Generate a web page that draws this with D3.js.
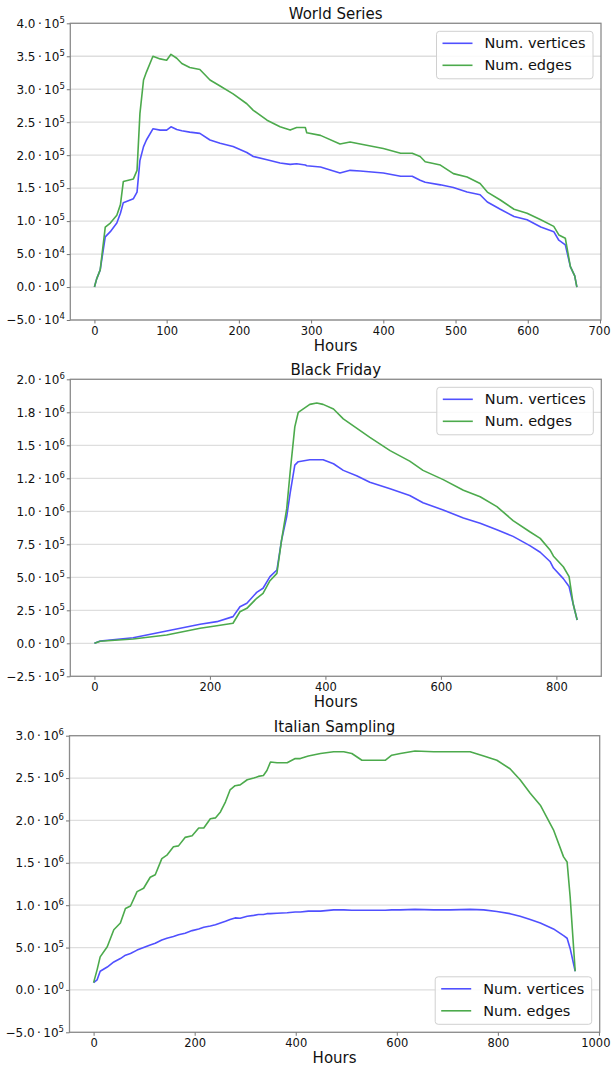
<!DOCTYPE html>
<html>
<head>
<meta charset="utf-8">
<script src="https://cdn.jsdelivr.net/npm/d3@7"></script>
<style>
  body { margin: 0; background: #fff; }
  svg text { font-family: "DejaVu Sans", sans-serif; fill: #111; }
</style>
</head>
<body>
<svg id="chart" width="611" height="1066"></svg>
<script>
// ---- World Series ----
const worldHours = [0, 3, 8, 15, 22, 31, 36, 40, 54, 59, 63, 68, 72, 81, 91, 100, 106, 114, 121, 132,
    146, 160, 174, 192, 211, 220, 239, 257, 271, 280, 292, 294, 313, 340, 354, 368, 400, 424, 440, 451,
    458, 479, 497, 516, 534, 544, 562, 581, 599, 618, 636, 643, 652, 659, 665, 668];
const worldVertices = [0, 0.12e5, 0.26e5, 0.76e5, 0.84e5, 0.97e5, 1.12e5, 1.28e5, 1.34e5, 1.44e5, 1.92e5, 2.13e5,
    2.23e5, 2.40e5, 2.38e5, 2.38e5, 2.43e5, 2.39e5, 2.37e5, 2.35e5, 2.33e5, 2.23e5, 2.18e5, 2.13e5, 2.04e5,
    1.98e5, 1.93e5, 1.88e5, 1.86e5, 1.87e5, 1.85e5, 1.84e5, 1.82e5, 1.73e5, 1.77e5, 1.76e5, 1.73e5, 1.68e5,
    1.68e5, 1.62e5, 1.59e5, 1.55e5, 1.51e5, 1.44e5, 1.40e5, 1.29e5, 1.18e5, 1.07e5, 1.02e5, 0.91e5, 0.84e5,
    0.71e5, 0.64e5, 0.31e5, 0.17e5, 0];
const worldEdges = [0, 0.12e5, 0.26e5, 0.91e5, 0.97e5, 1.09e5, 1.25e5, 1.60e5, 1.64e5, 1.77e5, 2.63e5, 3.14e5,
    3.26e5, 3.50e5, 3.46e5, 3.44e5, 3.53e5, 3.47e5, 3.39e5, 3.33e5, 3.30e5, 3.14e5, 3.05e5, 2.93e5, 2.78e5,
    2.68e5, 2.53e5, 2.43e5, 2.38e5, 2.42e5, 2.42e5, 2.34e5, 2.30e5, 2.17e5, 2.20e5, 2.17e5, 2.10e5, 2.03e5,
    2.03e5, 1.98e5, 1.90e5, 1.85e5, 1.72e5, 1.67e5, 1.57e5, 1.44e5, 1.32e5, 1.18e5, 1.12e5, 1.02e5, 0.92e5,
    0.79e5, 0.74e5, 0.31e5, 0.17e5, 0];
const worldXTicks = [0, 100, 200, 300, 400, 500, 600, 700];
const worldYTicks = [-5e4, 0, 5e4, 1e5, 1.5e5, 2e5, 2.5e5, 3e5, 3.5e5, 4e5];
const worldYTickLabels = [['\u22125.0', 4], ['0.0', 0], ['5.0', 4], ['1.0', 5], ['1.5', 5], ['2.0', 5],
    ['2.5', 5], ['3.0', 5], ['3.5', 5], ['4.0', 5]];

// ---- Black Friday ----
const fridayHours = [0, 10, 67, 125, 183, 212, 240, 252, 264, 281, 292, 304, 316, 324, 333, 339, 347, 353,
    373, 385, 396, 414, 431, 454, 477, 512, 546, 569, 604, 639, 668, 697, 725, 754, 772, 789, 795, 812,
    822, 829, 836];
const fridayVertices = [0, 0.17e5, 0.42e5, 0.93e5, 1.44e5, 1.64e5, 2.02e5, 2.77e5, 3.03e5, 3.86e5, 4.17e5,
    5.05e5, 5.55e5, 7.8e5, 9.6e5, 11.4e5, 13.5e5, 13.76e5, 13.9e5, 13.9e5, 13.9e5, 13.6e5, 13.1e5, 12.7e5,
    12.2e5, 11.7e5, 11.2e5, 10.65e5, 10.1e5, 9.5e5, 9.1e5, 8.6e5, 8.1e5, 7.4e5, 6.9e5, 6.2e5, 5.7e5, 4.9e5,
    4.3e5, 3.0e5, 1.77e5];
const fridayEdges = [0, 0.15e5, 0.32e5, 0.63e5, 1.14e5, 1.33e5, 1.52e5, 2.39e5, 2.65e5, 3.41e5, 3.79e5,
    4.74e5, 5.30e5, 7.8e5, 10.2e5, 13.0e5, 16.4e5, 17.5e5, 18.1e5, 18.2e5, 18.1e5, 17.75e5, 17.0e5, 16.3e5,
    15.6e5, 14.6e5, 13.8e5, 13.1e5, 12.4e5, 11.6e5, 11.1e5, 10.35e5, 9.3e5, 8.45e5, 7.95e5, 7.07e5, 6.6e5,
    5.8e5, 5.05e5, 3.0e5, 1.77e5];
const fridayXTicks = [0, 200, 400, 600, 800];
const fridayYTicks = [-2.5e5, 0, 2.5e5, 5e5, 7.5e5, 1e6, 1.25e6, 1.5e6, 1.75e6, 2e6];
const fridayYTickLabels = [['\u22122.5', 5], ['0.0', 0], ['2.5', 5], ['5.0', 5], ['7.5', 5], ['1.0', 6],
    ['1.2', 6], ['1.5', 6], ['1.8', 6], ['2.0', 6]];

// ---- Italian Sampling ----
const italianHours = [0, 7, 13, 27, 40, 53, 63, 73, 86, 99, 112, 122, 135, 145, 158, 168, 181, 195, 208, 218,
    231, 241, 251, 261, 270, 280, 290, 304, 317, 326, 336, 343, 350, 363, 383, 399, 409, 425, 449, 475,
    495, 511, 531, 577, 590, 607, 636, 673, 706, 745, 772, 798, 824, 844, 864, 884, 910, 930, 937, 943, 953];
const italianVertices = [0.086e6, 0.12e6, 0.22e6, 0.27e6, 0.33e6, 0.37e6, 0.41e6, 0.43e6, 0.47e6, 0.50e6,
    0.53e6, 0.55e6, 0.59e6, 0.61e6, 0.63e6, 0.65e6, 0.67e6, 0.70e6, 0.72e6, 0.74e6,
    0.755e6, 0.77e6, 0.79e6, 0.81e6, 0.83e6, 0.85e6, 0.845e6, 0.87e6, 0.88e6, 0.89e6,
    0.89e6, 0.90e6, 0.90e6, 0.905e6, 0.91e6, 0.92e6, 0.92e6, 0.93e6, 0.93e6, 0.945e6,
    0.945e6, 0.94e6, 0.94e6, 0.94e6, 0.945e6, 0.945e6, 0.95e6, 0.945e6, 0.945e6, 0.95e6,
    0.945e6, 0.925e6, 0.90e6, 0.87e6, 0.83e6, 0.79e6, 0.72e6, 0.64e6, 0.61e6, 0.49e6, 0.22e6];
const italianEdges = [0.086e6, 0.24e6, 0.39e6, 0.51e6, 0.71e6, 0.79e6, 0.96e6, 0.99e6, 1.16e6, 1.20e6,
    1.33e6, 1.36e6, 1.55e6, 1.59e6, 1.69e6, 1.70e6, 1.80e6, 1.82e6, 1.91e6, 1.91e6,
    2.02e6, 2.03e6, 2.10e6, 2.22e6, 2.36e6, 2.41e6, 2.42e6, 2.48e6, 2.50e6, 2.52e6,
    2.53e6, 2.59e6, 2.69e6, 2.68e6, 2.68e6, 2.73e6, 2.73e6, 2.76e6, 2.79e6, 2.81e6,
    2.81e6, 2.79e6, 2.71e6, 2.71e6, 2.77e6, 2.79e6, 2.82e6, 2.81e6, 2.81e6, 2.81e6,
    2.76e6, 2.71e6, 2.61e6, 2.48e6, 2.32e6, 2.18e6, 1.89e6, 1.57e6, 1.51e6, 1.10e6, 0.22e6];
const italianXTicks = [0, 200, 400, 600, 800, 1000];
const italianYTicks = [-5e5, 0, 5e5, 1e6, 1.5e6, 2e6, 2.5e6, 3e6];
const italianYTickLabels = [['\u22125.0', 5], ['0.0', 0], ['5.0', 5], ['1.0', 6], ['1.5', 6], ['2.0', 6],
    ['2.5', 6], ['3.0', 6]];

const seriesNames = ['Num. vertices', 'Num. edges'];
const seriesColors = ['#5050ff', '#4caa4c'];
const chartWidth = 611;

/**
 * Draw one subplot: frame, grid, axes, the two lines, title and legend.
 */
function drawPanel(svg, p) {
    var x = d3.scaleLinear().domain(p.xDomain).range([p.left, p.right]);
    var y = d3.scaleLinear()
        .domain([p.yTicks[0], p.yTicks[p.yTicks.length - 1]])
        .range([p.bottom, p.top]);

    var g = svg.append('g');

    // horizontal grid lines at every y tick
    g.selectAll('line.grid')
        .data(p.yTicks)
        .enter().append('line')
        .attr('class', 'grid')
        .attr('x1', p.left).attr('x2', p.right)
        .attr('y1', d => y(d)).attr('y2', d => y(d))
        .attr('stroke', '#dedede')
        .attr('stroke-width', 1.3);

    var line = d3.line().x(d => x(d[0])).y(d => y(d[1]));
    p.series.forEach(function(values, i) {
        g.append('path')
            .datum(p.hours.map((h, j) => [h, values[j]]))
            .attr('d', line)
            .attr('fill', 'none')
            .attr('stroke', seriesColors[i])
            .attr('stroke-width', 1.6)
            .attr('stroke-linejoin', 'round');
    });

    // frame
    g.append('rect')
        .attr('x', p.left).attr('y', p.top)
        .attr('width', p.right - p.left).attr('height', p.bottom - p.top)
        .attr('fill', 'none')
        .attr('stroke', '#8c8c8c')
        .attr('stroke-width', 1.3);

    // x axis
    var xAxis = g.append('g')
        .attr('transform', 'translate(0,' + p.bottom + ')')
        .call(d3.axisBottom(x).tickValues(p.xTicks).tickSize(3.5).tickPadding(3).tickFormat(d3.format('d')));
    xAxis.select('.domain').remove();
    xAxis.selectAll('.tick line').attr('stroke', '#777');
    xAxis.selectAll('.tick text')
        .style('font-size', '11.5px')
        .each(function() {
            // nudge a label back inside the page if it spills over the right edge
            var box = this.getBoundingClientRect();
            if (box.right > chartWidth - 0.5) {
                d3.select(this).attr('dx', -(box.right - chartWidth + 0.5));
            }
        });

    // y axis, labels written as mantissa · 10^exp
    var yAxis = g.append('g')
        .attr('transform', 'translate(' + p.left + ',0)')
        .call(d3.axisLeft(y).tickValues(p.yTicks).tickSize(3.5).tickPadding(2).tickFormat(() => ''));
    yAxis.select('.domain').remove();
    yAxis.selectAll('.tick line').attr('stroke', '#777');
    yAxis.selectAll('.tick text')
        .style('font-size', '12px')
        .each(function(d, i) {
            var label = p.yTickLabels[i];
            var t = d3.select(this);
            t.append('tspan').text(label[0] + '\u2009\u00b7\u200910');
            t.append('tspan')
                .attr('dy', -5)
                .style('font-size', '8.5px')
                .text(label[1]);
        });

    // title and x label
    g.append('text')
        .attr('x', (p.left + p.right) / 2)
        .attr('y', p.top - 4)
        .attr('text-anchor', 'middle')
        .style('font-size', '15px')
        .text(p.title);
    g.append('text')
        .attr('x', (p.left + p.right) / 2)
        .attr('y', p.bottom + 30.5)
        .attr('text-anchor', 'middle')
        .style('font-size', '15px')
        .text('Hours');

    drawLegend(g, p);
}

/**
 * Legend box in the upper or lower right corner of a panel.
 */
function drawLegend(g, p) {
    var boxWidth = 156.5;
    var boxHeight = 47.5;
    var inset = 8;
    var bx = p.right - inset - boxWidth;
    var by = p.legendBottom ? p.bottom - inset - boxHeight : p.top + inset;

    var legend = g.append('g').attr('transform', 'translate(' + bx + ',' + by + ')');
    legend.append('rect')
        .attr('width', boxWidth).attr('height', boxHeight)
        .attr('rx', 3).attr('ry', 3)
        .attr('fill', 'white').attr('fill-opacity', 0.85)
        .attr('stroke', '#d0d0d0');

    var rows = legend.selectAll('g.row')
        .data(seriesNames)
        .enter().append('g')
        .attr('class', 'row')
        .attr('transform', (d, i) => 'translate(0,' + (12 + i * 22) + ')');
    rows.append('line')
        .attr('x1', 6).attr('x2', 36)
        .attr('stroke', (d, i) => seriesColors[i])
        .attr('stroke-width', 1.6);
    rows.append('text')
        .attr('x', 48)
        .attr('y', 5)
        .style('font-size', '14.5px')
        .text(d => d);
}

var svg = d3.select('#chart');

drawPanel(svg, {
    title: 'World Series',
    left: 70.3, right: 601, top: 23.3, bottom: 320,
    xDomain: [-33.4, 701.4], xTicks: worldXTicks,
    yTicks: worldYTicks, yTickLabels: worldYTickLabels,
    hours: worldHours, series: [worldVertices, worldEdges],
    legendBottom: false
});

drawPanel(svg, {
    title: 'Black Friday',
    left: 70.3, right: 601.3, top: 379.3, bottom: 676.3,
    xDomain: [-41.8, 877.8], xTicks: fridayXTicks,
    yTicks: fridayYTicks, yTickLabels: fridayYTickLabels,
    hours: fridayHours, series: [fridayVertices, fridayEdges],
    legendBottom: false
});

drawPanel(svg, {
    title: 'Italian Sampling',
    left: 69.5, right: 599.7, top: 735.7, bottom: 1032.3,
    xDomain: [-47.7, 1001.5], xTicks: italianXTicks,
    yTicks: italianYTicks, yTickLabels: italianYTickLabels,
    hours: italianHours, series: [italianVertices, italianEdges],
    legendBottom: true
});
</script>
</body>
</html>
